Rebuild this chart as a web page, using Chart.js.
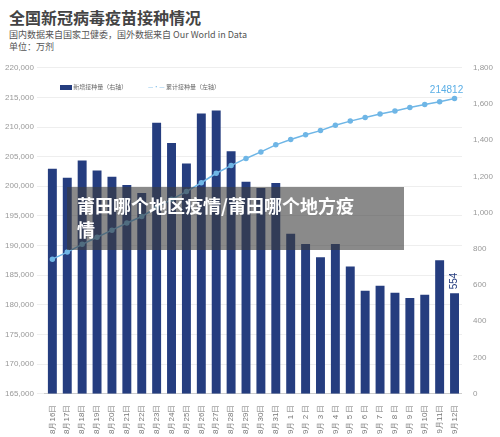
<!DOCTYPE html>
<html><head><meta charset="utf-8">
<script src="https://cdn.jsdelivr.net/npm/chart.js@4/dist/chart.umd.min.js"></script>
<style>
body{margin:0;width:500px;height:437px;background:#fff;font-family:"Noto Sans CJK SC",sans-serif;position:relative;overflow:hidden}
h1{position:absolute;left:9px;top:5px;margin:0;font-size:16px;color:#444;font-weight:bold}
.sub{position:absolute;left:9px;top:29px;font-size:9px;color:#555;line-height:12px}
#wrap{position:absolute;left:0;top:60px;width:500px;height:377px}
.lg{position:absolute;top:82px;font-size:6px;color:#666}
.ov{position:absolute;left:67px;top:187px;width:337px;height:63px;background:rgba(60,60,60,.6);color:#fff;font-size:18px;font-weight:bold;padding:6px 10px;box-sizing:border-box;line-height:24px}
</style></head><body>
<h1>全国新冠病毒疫苗接种情况</h1>
<div class="sub">国内数据来自国家卫健委，国外数据来自 Our World in Data<br>单位：万剂</div>
<div id="wrap"><canvas id="c"></canvas></div>
<div class="lg" style="left:60px"><span style="display:inline-block;width:12px;height:5px;background:#253d7f;vertical-align:middle"></span> 新增接种量（右轴）</div>
<div class="lg" style="left:148px"><span style="color:#6fb6e6">—•—</span> 累计接种量（左轴）</div>
<div class="ov">莆田哪个地区疫情/莆田哪个地方疫<br>情</div>
<script>
const labels=['8月16日','8月17日','8月18日','8月19日','8月20日','8月21日','8月22日','8月23日','8月24日','8月25日','8月26日','8月27日','8月28日','8月29日','8月30日','8月31日','9月 1 日','9月 2 日','9月 3 日','9月 4 日','9月 5 日','9月 6 日','9月 7 日','9月 8 日','9月 9 日','9月10日','9月11日','9月12日'];
const daily=[1243,1192,1288,1232,1198,1153,1108,1496,1384,1271,1547,1564,1339,1170,1136,1164,883,827,754,827,703,568,596,557,529,546,737,554];
const total=[187700,188900,190200,191400,192600,193800,194900,196400,197800,199100,200600,202200,203500,204700,205800,207000,207900,208700,209400,210300,211000,211600,212200,212700,213300,213800,214258,214812];
const leftTicks=[165000,170000,175000,180000,185000,190000,195000,200000,205000,210000,215000,220000];
const lastLabels={
 id:'lastLabels',
 afterDatasetsDraw(ch){
  const c=ch.ctx;
  const p=ch.getDatasetMeta(1).data[27];
  c.save();c.font='10px sans-serif';c.fillStyle='#5aaee6';c.textAlign='center';
  c.fillText(String(total[27]),p.x-8,p.y-6);
  const b=ch.getDatasetMeta(0).data[27];
  c.fillStyle='#253d7f';c.translate(b.x,b.y-4);c.rotate(-Math.PI/2);c.textAlign='left';c.textBaseline='middle';
  c.fillText(String(daily[27]),0,0);c.restore();
 }};
new Chart(document.getElementById('c'),{
 data:{labels,datasets:[
  {type:'bar',data:daily,yAxisID:'y1',backgroundColor:'#253d7f',categoryPercentage:0.8,barPercentage:0.75,order:2},
  {type:'line',data:total,yAxisID:'y',borderColor:'#6fb6e6',backgroundColor:'#6fb6e6',borderWidth:1.5,pointRadius:2,tension:0,order:1}
 ]},
 plugins:[lastLabels],
 options:{responsive:true,maintainAspectRatio:false,animation:false,
  layout:{padding:{top:5,right:4,left:2}},
  plugins:{legend:{display:false},tooltip:{enabled:false}},
  scales:{
   x:{grid:{display:false},border:{color:'#ccc'},ticks:{color:'#777',font:{size:8},minRotation:90,maxRotation:90,autoSkip:false}},
   y:{position:'left',min:165000,max:220000,afterBuildTicks:a=>{a.ticks=leftTicks.map(v=>({value:v}))},grid:{color:'#eee'},border:{display:false},ticks:{color:'#999',font:{size:8}}},
   y1:{position:'right',min:0,max:1800,ticks:{stepSize:200,color:'#999',font:{size:8}},grid:{display:false},border:{display:false}}
  }}
});
</script></body></html>
